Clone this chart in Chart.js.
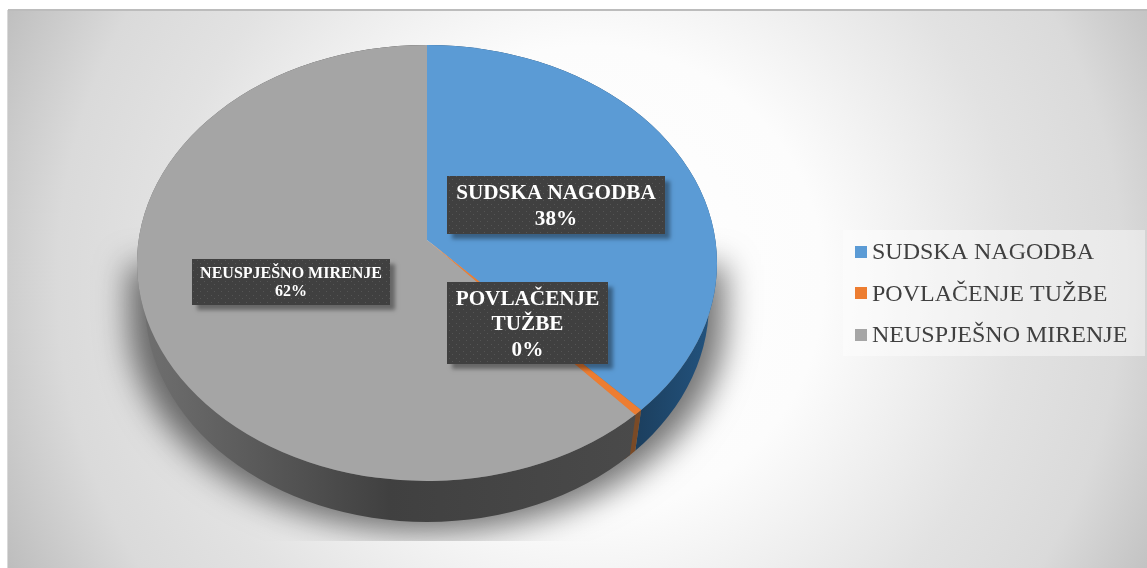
<!DOCTYPE html>
<html><head><meta charset="utf-8">
<style>html,body{margin:0;padding:0;background:#fff}canvas{display:block}</style>
<script src="https://cdn.jsdelivr.net/npm/chart.js@4"></script>
</head><body><canvas id="c" width="1147" height="568"></canvas>
<script>
const categories = ['SUDSKA NAGODBA', 'POVLAČENJE TUŽBE', 'NEUSPJEŠNO MIRENJE'];
const values = [38, 0.4, 61.6];
const colors = ['#5b9bd5', '#ed7d31', '#a5a5a5'];
const sideColors = ['#1f4669', '#7a4a26', '#4c4c4c'];

const G = {cx: 427, cy: 263, rx: 290, ry: 218, ax: 427, ay: 240, bx: 427, by: 303, brx: 282, bry: 219};
const SERIF = '"Liberation Serif","Times New Roman",serif';

function warp(a) {            // library angle -> ellipse parameter (perspective foreshortening)
  const th = a + Math.PI / 2;
  return th - 0.112 * Math.sin(th) - Math.PI / 2;
}
function dotPattern(ctx) {
  const p = document.createElement('canvas'); p.width = 7; p.height = 7;
  const g = p.getContext('2d');
  g.fillStyle = '#404040'; g.fillRect(0, 0, 7, 7);
  g.fillStyle = '#555555'; g.fillRect(1, 1, 1, 1); g.fillRect(4, 4, 1, 1);
  return ctx.createPattern(p, 'repeat');
}
function labelBox(ctx, x, y, w, h, lines, size, lh, off) {
  ctx.save();
  ctx.shadowColor = 'rgba(0,0,0,0.38)'; ctx.shadowBlur = 4; ctx.shadowOffsetX = 5; ctx.shadowOffsetY = 5;
  ctx.fillStyle = '#404040'; ctx.fillRect(x, y, w, h);
  ctx.restore();
  ctx.fillStyle = dotPattern(ctx); ctx.fillRect(x, y, w, h);
  ctx.fillStyle = '#fff'; ctx.font = 'bold ' + size + 'px ' + SERIF;
  ctx.textAlign = 'center'; ctx.textBaseline = 'middle';
  const y0 = y + h / 2 - (lines.length - 1) * lh / 2 + off;
  lines.forEach((t, i) => ctx.fillText(t, x + w / 2, y0 + i * lh));
}

const pie3d = {
  id: 'pie3d',
  beforeDraw(chart) {
    const ctx = chart.ctx;
    ctx.save();
    ctx.fillStyle = '#fff'; ctx.fillRect(0, 0, 1147, 568);
    const g = ctx.createRadialGradient(590, 280, 0, 590, 280, 650);
    g.addColorStop(0, '#ffffff'); g.addColorStop(0.36, '#fcfcfc');
    g.addColorStop(0.66, '#e2e2e2'); g.addColorStop(0.82, '#dadada'); g.addColorStop(1, '#bdbdbd');
    ctx.fillStyle = g; ctx.fillRect(8, 10, 1139, 558);
    ctx.fillStyle = '#bcbcbc'; ctx.fillRect(8, 9, 1139, 2);
    ctx.fillStyle = '#d9d9d9'; ctx.fillRect(7, 10, 1, 558);
    ctx.restore();
  },
  beforeDatasetsDraw(chart) {
    const ctx = chart.ctx;
    const arcs = chart.getDatasetMeta(0).data;
    // soft cast shadow: the shape is drawn off canvas so only its blur lands here
    ctx.save();
    ctx.beginPath(); ctx.rect(0, 0, 1147, 541); ctx.clip();
    ctx.shadowColor = 'rgba(0,0,0,0.55)'; ctx.shadowBlur = 32; ctx.shadowOffsetX = 3000;
    ctx.fillStyle = '#000';
    ctx.beginPath();
    const ox = -3000;
    ctx.moveTo(ox + G.cx - 298, 265);
    ctx.lineTo(ox + G.cx - 298, 320);
    ctx.ellipse(ox + G.cx, 320, 298, 212, 0, Math.PI, 0, true);
    ctx.lineTo(ox + G.cx + 298, 265);
    ctx.closePath(); ctx.fill();
    ctx.restore();
    // side wall
    const grey = ctx.createLinearGradient(140, 0, 640, 0);
    grey.addColorStop(0, '#707070'); grey.addColorStop(0.5, '#404040'); grey.addColorStop(1, '#4a4a4a');
    const blue = ctx.createLinearGradient(640, 0, 716, 0);
    blue.addColorStop(0, '#1c4060'); blue.addColorStop(1, '#235480');
    arcs.forEach((arc, i) => {
      const p = arc.getProps(['startAngle', 'endAngle'], true);
      let t0 = warp(p.startAngle), t1 = warp(p.endAngle);
      if (i === 1) { t1 = t0 + 0.055; }
      ctx.beginPath();
      ctx.ellipse(G.cx, G.cy, G.rx, G.ry, 0, t0, t1);
      ctx.ellipse(G.bx, G.by, G.brx, G.bry, 0, t1, t0, true);
      ctx.closePath();
      ctx.fillStyle = i === 2 ? grey : i === 0 ? blue : sideColors[i];
      ctx.fill();
    });
    // top face
    [2, 0, 1].forEach(i => {
      const p = arcs[i].getProps(['startAngle', 'endAngle'], true);
      let t0 = warp(p.startAngle), t1 = warp(p.endAngle);
      if (i === 1) { t1 = t0 + 0.03; }
      ctx.beginPath();
      ctx.moveTo(G.ax, G.ay);
      ctx.ellipse(G.cx, G.cy, G.rx, G.ry, 0, t0, t1);
      ctx.closePath();
      ctx.fillStyle = colors[i];
      ctx.fill();
    });
    return false;
  },
  afterDraw(chart) {
    const ctx = chart.ctx;
    const total = values.reduce((a, b) => a + b, 0);
    const pct = values.map(v => Math.round(v / total * 100) + '%');
    ctx.save();
    labelBox(ctx, 447, 176, 218, 58, [categories[0], pct[0]], 21.2, 26, 2);
    labelBox(ctx, 447, 282, 161, 82, ['POVLAČENJE', 'TUŽBE', pct[1]], 21.2, 25.5, 2);
    labelBox(ctx, 192, 259, 198, 46, [categories[2], pct[2]], 16, 18.5, 1);
    // legend
    ctx.fillStyle = 'rgba(255,255,255,0.42)';
    ctx.fillRect(843, 230, 302, 126);
    ctx.textAlign = 'left'; ctx.textBaseline = 'middle';
    ctx.font = '24px ' + SERIF;
    categories.forEach((c, i) => {
      const y = 252 + i * 41.3;
      ctx.fillStyle = colors[i]; ctx.fillRect(855, Math.round(y - 6), 12, 12);
      ctx.fillStyle = '#404040'; ctx.fillText(c, 872, y + 1);
    });
    ctx.restore();
  }
};

new Chart(document.getElementById('c'), {
  type: 'pie',
  data: {labels: categories, datasets: [{data: values, backgroundColor: colors, borderWidth: 0}]},
  options: {
    responsive: false, animation: false,
    plugins: {legend: {display: false}, tooltip: {enabled: false}}
  },
  plugins: [pie3d]
});
</script></body></html>
